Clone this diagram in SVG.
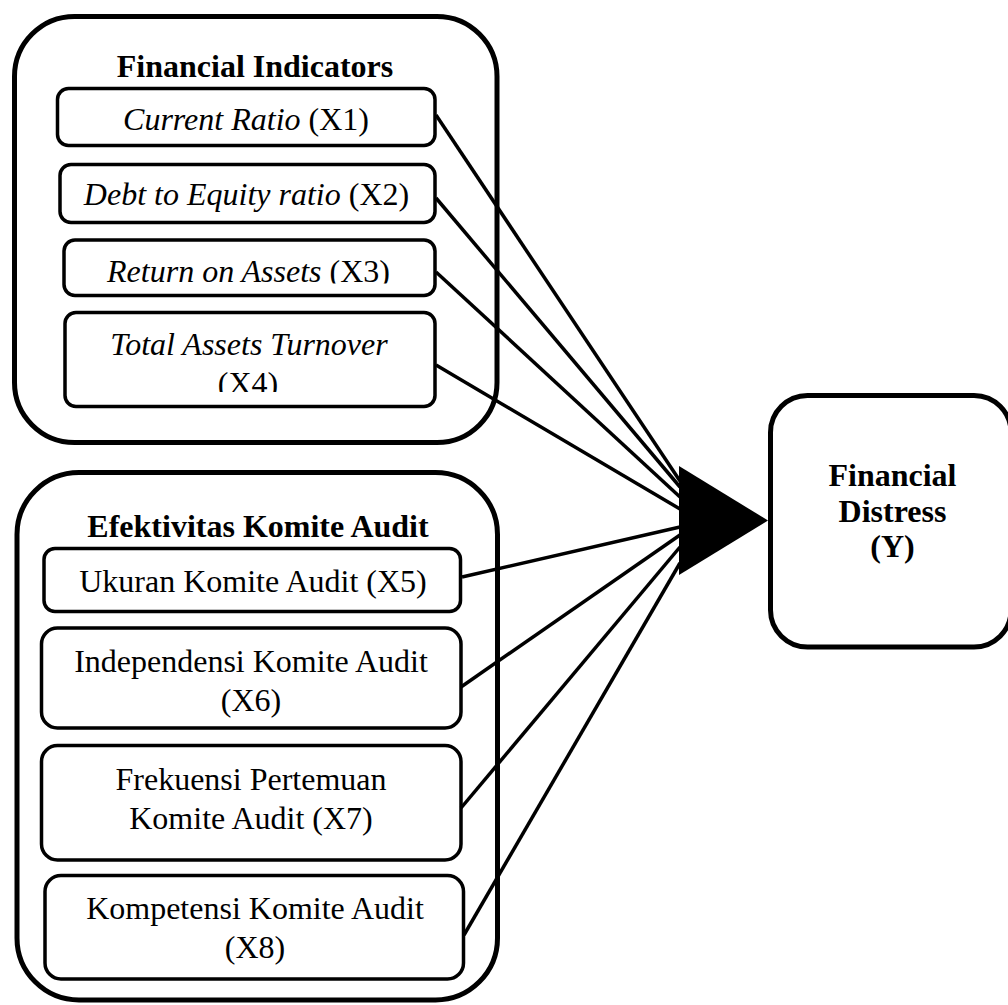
<svg xmlns="http://www.w3.org/2000/svg" width="1008" height="1005" viewBox="0 0 1008 1005">
<style>
.outer{fill:#fff;stroke:#000;stroke-width:5}
.inner{fill:#fff;stroke:#000;stroke-width:3.5}
.t{font-family:"Liberation Serif","Times New Roman",serif;font-size:32px;fill:#000;text-anchor:middle}
.b{font-weight:bold}
.i{font-style:italic}
.conn{stroke:#000;stroke-width:3.5;fill:none}
</style>
<defs>
<clipPath id="c3"><rect x="0" y="230" width="500" height="53.5"/></clipPath>
<clipPath id="c4"><rect x="0" y="300" width="500" height="92"/></clipPath>
</defs>
<rect width="1008" height="1005" fill="#fff"/>

<g id="financial-indicators">
<rect class="outer" x="14.5" y="16.5" width="482.5" height="426" rx="60" ry="60"/>
<text class="t b" x="255" y="77">Financial Indicators</text>
</g>

<g id="x1">
<rect class="inner" x="57.5" y="88.5" width="377.5" height="57" rx="11"/>
<text class="t" x="246" y="130"><tspan class="i">Current Ratio</tspan> (X1)</text>
</g>
<g id="x2">
<rect class="inner" x="60" y="164.5" width="375" height="58" rx="11"/>
<text class="t" x="246.5" y="205"><tspan class="i">Debt to Equity ratio</tspan> (X2)</text>
</g>
<g id="x3">
<rect class="inner" x="64" y="240" width="371" height="55.5" rx="11"/>
<text class="t" x="248.5" y="282" clip-path="url(#c3)"><tspan class="i">Return on Assets</tspan> (X3)</text>
</g>
<g id="x4">
<rect class="inner" x="65" y="312.5" width="370" height="94" rx="11"/>
<g clip-path="url(#c4)">
<text class="t i" x="249" y="355">Total Assets Turnover</text>
<text class="t" x="248" y="393.5">(X4)</text>
</g>
</g>

<g id="efektivitas-komite-audit">
<rect class="outer" x="17" y="472.5" width="480.5" height="527.5" rx="62" ry="62"/>
<text class="t b" x="258" y="537">Efektivitas Komite Audit</text>
</g>

<g id="x5">
<rect class="inner" x="44" y="548.5" width="416.5" height="63" rx="11"/>
<text class="t" x="253" y="592">Ukuran Komite Audit (X5)</text>
</g>
<g id="x6">
<rect class="inner" x="41.5" y="628" width="419.5" height="100" rx="16"/>
<text class="t" x="251" y="672">Independensi Komite Audit</text>
<text class="t" x="251" y="710.5">(X6)</text>
</g>
<g id="x7">
<rect class="inner" x="41.5" y="745.5" width="419.5" height="114.5" rx="16"/>
<text class="t" x="251" y="790">Frekuensi Pertemuan</text>
<text class="t" x="251" y="828.5">Komite Audit (X7)</text>
</g>
<g id="x8">
<rect class="inner" x="45" y="875.5" width="418.5" height="103.5" rx="16"/>
<text class="t" x="255" y="919">Kompetensi Komite Audit</text>
<text class="t" x="255" y="957.5">(X8)</text>
</g>

<g id="connectors">
<line class="conn" x1="436" y1="115" x2="680" y2="481"/>
<line class="conn" x1="436" y1="198" x2="680" y2="487"/>
<line class="conn" x1="436" y1="272" x2="680" y2="497"/>
<line class="conn" x1="436" y1="365" x2="680" y2="509"/>
<line class="conn" x1="462" y1="577" x2="680" y2="527"/>
<line class="conn" x1="461" y1="687" x2="680" y2="535"/>
<line class="conn" x1="461" y1="808" x2="680" y2="547"/>
<line class="conn" x1="464" y1="935" x2="680" y2="563"/>
<polygon points="679,466 768,520.5 679,575" fill="#000"/>
</g>

<g id="financial-distress">
<rect class="outer" x="770.5" y="395.5" width="240.5" height="251.5" rx="37" ry="37"/>
<text class="t b" x="892.5" y="486">Financial</text>
<text class="t b" x="892.5" y="521.5">Distress</text>
<text class="t b" x="892.5" y="557">(Y)</text>
</g>
</svg>
